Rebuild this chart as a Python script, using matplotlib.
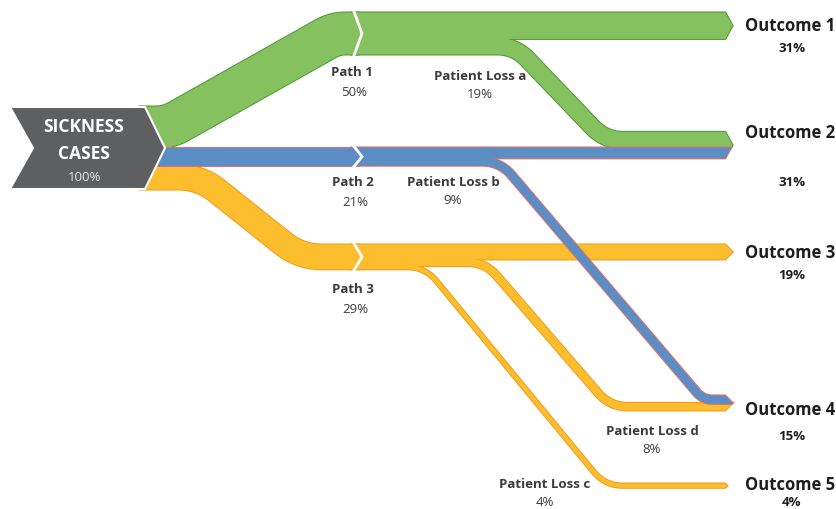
import numpy as np
import matplotlib.pyplot as plt
from matplotlib.patches import Polygon

plt.rcParams['font.family'] = ['Open Sans', 'DejaVu Sans']

# DATA
source_name = ['SICKNESS', 'CASES']
source_pct = 100
path_names = ['Path 1', 'Path 2', 'Path 3']
path_pct = [50, 21, 29]
loss_names = ['Patient Loss a', 'Patient Loss b', 'Patient Loss c', 'Patient Loss d']
loss_pct = [19, 9, 4, 8]
loss_from = [0, 1, 2, 2]      # which path the loss leaves
loss_to = [1, 3, 4, 3]        # which outcome it reaches
outcome_names = ['Outcome 1', 'Outcome 2', 'Outcome 3', 'Outcome 4', 'Outcome 5']
outcome_pct = [31, 31, 19, 15, 4]
path_outcome = [0, 1, 2]      # outcome reached straight by each path

# layout (pixels)
S = 0.82
x_src, x_chev, x_end = 140, 358, 725
src_top = 108
stage_top = [14, 149, 246]
path_bend = [(168, 335), (172, 330), (200, 300)]
stack_order = [0, 1, 3, 2]
loss_x0 = [515, 500, 425, 485]
loss_x1 = [605, 703, 605, 610]
out_top = [14, 133.4, 246, 397, 485]

fills = ['#86C15F', '#5B8EC4', '#FDBE2D']
edges = ['#52983A', '#E2706A', '#F29B1E']
zs = [1, 5, 3]


def corner_path(pts, r):
    pts = [np.array(p, float) for p in pts]
    out = [pts[0]]
    t = np.linspace(0, 1, 24)[:, None]
    for p0, p1, p2 in zip(pts, pts[1:], pts[2:]):
        l0, l2 = np.hypot(*(p0 - p1)), np.hypot(*(p2 - p1))
        rr = min(r, 0.45 * l0, 0.45 * l2)
        a = p1 + (p0 - p1) / l0 * rr
        b = p1 + (p2 - p1) / l2 * rr
        out.extend((1 - t) ** 2 * a + 2 * (1 - t) * t * p1 + t ** 2 * b)
    out.append(pts[-1])
    return np.array(out)


def band(ax, pts, w, r, k, arrow=None):
    c = corner_path(pts, r)
    d = np.gradient(c, axis=0)
    n = np.column_stack([-d[:, 1], d[:, 0]])
    n /= np.hypot(n[:, 0], n[:, 1])[:, None]
    top = c - n * w / 2
    bot = c + n * w / 2
    cap = []
    if arrow is not None:
        Y0, Y1 = arrow
        yc, h = (Y0 + Y1) / 2, (Y1 - Y0) / 2
        L = min(7, 0.5 * (Y1 - Y0))
        y0, y1 = top[-1, 1], bot[-1, 1]
        xr = lambda y: x_end + L * (1 - abs(y - yc) / h)
        cap.append((xr(y0), y0))
        if y0 < yc < y1:
            cap.append((x_end + L, yc))
        cap.append((xr(y1), y1))
    poly = np.vstack([top, np.array(cap).reshape(-1, 2), bot[::-1]])
    ax.add_patch(Polygon(poly, closed=True, fc='none', ec=edges[k], lw=2.2, zorder=zs[k]))
    ax.add_patch(Polygon(poly, closed=True, fc=fills[k], ec=fills[k], lw=0.7, zorder=zs[k] + 0.5))


fig = plt.figure(figsize=(8.36, 5.10), dpi=100)
ax = fig.add_axes([0, 0, 1, 1])
ax.set_xlim(0, 836)
ax.set_ylim(510, 0)
ax.axis('off')

# where flows arrive at each outcome
arrive = {i: [] for i in range(len(outcome_names))}
ycur = list(out_top)
for j in range(len(loss_pct)):
    o = loss_to[j]
    arrive[o].append(('loss', j, ycur[o]))
    ycur[o] += loss_pct[j] * S
direct_pct = [path_pct[i] - sum(loss_pct[j] for j in range(len(loss_pct)) if loss_from[j] == i)
              for i in range(len(path_pct))]
for i, o in enumerate(path_outcome):
    arrive[o].append(('path', i, stage_top[i]))
span = {}
for o, lst in arrive.items():
    lo, hi = [], []
    for kind, j, y in lst:
        v = loss_pct[j] if kind == 'loss' else direct_pct[j]
        lo.append(y)
        hi.append(y + v * S)
    span[o] = (min(lo), max(hi))

# paths from the source to the chevron
y = src_top
for i, v in enumerate(path_pct):
    w = v * S
    yc0 = y + w / 2
    yc1 = stage_top[i] + w / 2
    b0, b1 = path_bend[i]
    band(ax, [(x_src, yc0), (b0, yc0), (b1, yc1), (x_chev, yc1)], w, 22, i)
    y += w

# straight flows and losses after the chevron
for i in range(len(path_pct)):
    w = direct_pct[i] * S
    yc = stage_top[i] + w / 2
    band(ax, [(x_chev - 6, yc), ((x_chev + x_end) / 2, yc), (x_end, yc)], w, 10, i,
         arrow=span[path_outcome[i]])
    yb = stage_top[i] + w
    for j in stack_order:
        if loss_from[j] != i:
            continue
        wl = loss_pct[j] * S
        y0 = yb + wl / 2
        y1 = [a[2] for a in arrive[loss_to[j]] if a[0] == 'loss' and a[1] == j][0] + wl / 2
        band(ax, [(x_chev - 6, y0), (loss_x0[j], y0), (loss_x1[j], y1), (x_end, y1)], wl, 18, i,
             arrow=span[loss_to[j]])
        yb += wl
    # white chevron cut
    top, bot = stage_top[i], stage_top[i] + path_pct[i] * S
    ax.plot([x_chev - 4, x_chev + 4, x_chev - 4], [top - 1.5, (top + bot) / 2, bot + 1.5],
            color='white', lw=2, zorder=zs[i] + 0.8, solid_joinstyle='miter')

# source chevron
h = sum(path_pct) * S
ax.add_patch(Polygon([(10, src_top), (145, src_top), (165, src_top + h / 2), (145, src_top + h),
                      (10, src_top + h), (33, src_top + h / 2)], closed=True,
                     fc='#5E5F61', ec='white', lw=1.5, zorder=10))
ax.text(84, 127, source_name[0], color='white', fontsize=12.5, fontweight='bold',
        ha='center', va='center', zorder=11)
ax.text(84, 154, source_name[1], color='white', fontsize=12.5, fontweight='bold',
        ha='center', va='center', zorder=11)
ax.text(84, 178, f'{source_pct}%', color='#E6E6E6', fontsize=9.5, ha='center', va='center', zorder=11)

tc = '#3B3B3B'
path_lbl = [(352, 73), (353, 183), (353, 290)]
for (x, yy), name, v in zip(path_lbl, path_names, path_pct):
    ax.text(x, yy, name, color=tc, fontsize=9.5, fontweight='bold', ha='center', va='center')
    ax.text(x + 2, yy + 20, f'{v}%', color=tc, fontsize=9.5, ha='center', va='center')

loss_lbl = [(480, 77), (453, 183), (545, 485), (652, 432)]
for (x, yy), name, v in zip(loss_lbl, loss_names, loss_pct):
    ax.text(x, yy, name, color=tc, fontsize=9.5, fontweight='bold', ha='center', va='center')
    ax.text(x, yy + 18, f'{v}%', color=tc, fontsize=9.5, ha='center', va='center')

out_lbl = [(790, 26, 48), (790, 133, 183), (790, 253, 276), (790, 410, 437), (790, 485, 503)]
for (x, y1, y2), name, v in zip(out_lbl, outcome_names, outcome_pct):
    ax.text(x, y1, name, color='#1E1E1E', fontsize=12, fontweight='bold', ha='center', va='center')
    ax.text(x + 2, y2, f'{v}%', color='#1E1E1E', fontsize=9.5, fontweight='bold', ha='center', va='center')

fig.savefig('out.png', dpi=100)
